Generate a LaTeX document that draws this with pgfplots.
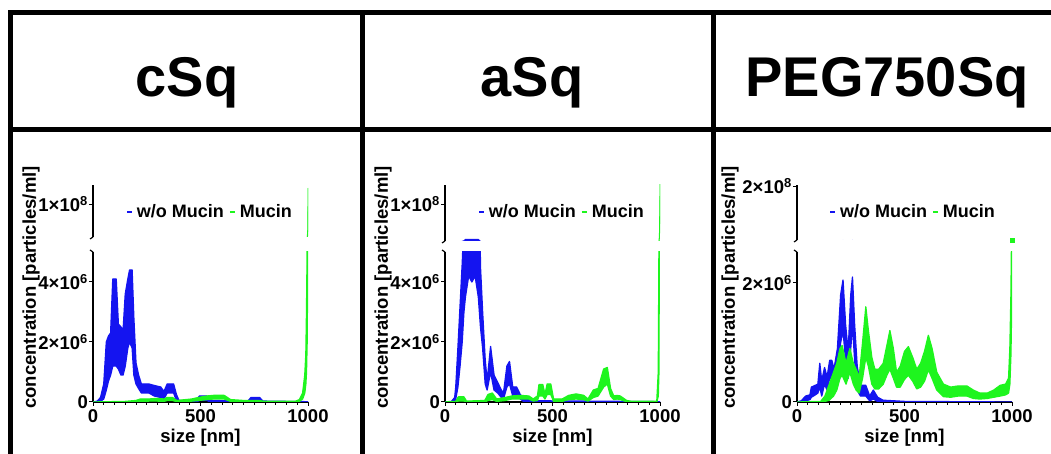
\documentclass[border=0pt]{standalone}
\usepackage{fontspec}
\setmainfont{Liberation Sans}
\usepackage{pgfplots}
\usepackage{pgfplotstable}
\pgfplotsset{compat=1.18}

\definecolor{cblue}{RGB}{20,20,240}
\definecolor{cgreen}{RGB}{30,245,30}

% outline of the mean +/- sd band
% x = size [nm], y = concentration in 10^6 particles/ml
% upper edge left to right, then lower edge right to left
\pgfplotstableread[row sep=\\]{x y\\
0 0\\ 20 0.03\\ 35 0.15\\ 50 0.6\\ 62 2.0\\ 72 2.2\\ 82 2.3\\ 92 4.1\\ 108 4.1\\ 118 2.6\\
130 2.5\\ 140 2.4\\ 150 3.6\\ 162 4.1\\ 170 4.4\\ 182 4.4\\ 190 2.8\\ 200 1.3\\ 212 0.9\\
225 0.6\\ 260 0.6\\ 285 0.55\\ 315 0.5\\ 330 0.35\\ 345 0.6\\ 375 0.6\\ 388 0.25\\ 400 0.05\\
480 0.05\\ 495 0.2\\ 530 0.2\\ 545 0.05\\ 720 0.03\\ 735 0.15\\ 775 0.15\\ 790 0.03\\ 1000 0.01\\
1000 0\\ 790 0\\ 775 0.05\\ 735 0.05\\ 720 0\\ 545 0\\ 530 0.05\\ 495 0.05\\ 480 0\\ 400 0\\
388 0.05\\ 375 0.3\\ 345 0.3\\ 330 0.1\\ 315 0.15\\ 285 0.2\\ 260 0.3\\ 225 0.3\\ 212 0.45\\
200 0.6\\ 190 0.9\\ 182 1.8\\ 170 2.0\\ 162 1.8\\ 150 1.2\\ 140 0.9\\ 130 0.9\\ 118 1.1\\
108 1.2\\ 92 1.2\\ 82 0.9\\ 72 0.7\\ 62 0.4\\ 50 0.1\\ 35 0.02\\ 20 0\\ 0 0\\
}\cSqBlue

\pgfplotstableread[row sep=\\]{x y\\
0 0\\ 150 0.02\\ 200 0.05\\ 220 0.1\\ 260 0.1\\ 300 0.12\\ 330 0.1\\ 345 0.15\\ 370 0.15\\
390 0.05\\ 460 0.1\\ 490 0.15\\ 530 0.2\\ 560 0.22\\ 610 0.22\\ 640 0.08\\ 700 0.05\\ 770 0.05\\
800 0.02\\ 940 0.02\\ 960 0.08\\ 975 0.3\\ 985 0.9\\ 990 1.6\\ 993 3.0\\ 996 5.0\\ 998 25\\
999 90\\ 1000 146\\
1000 20\\ 999 10\\ 998 4\\ 996 2\\ 993 1\\ 990 0.6\\ 985 0.3\\ 975 0.1\\ 960 0.02\\ 940 0\\
800 0\\ 770 0.01\\ 700 0.01\\ 640 0.02\\ 610 0.1\\ 560 0.1\\ 530 0.08\\ 490 0.05\\ 460 0.03\\
390 0.01\\ 370 0.05\\ 345 0.05\\ 330 0.02\\ 300 0.03\\ 260 0.03\\ 220 0.02\\ 200 0.01\\ 150 0\\ 0 0\\
}\cSqGreen

\pgfplotstableread[row sep=\\]{x y\\
0 0\\ 30 0.02\\ 45 0.15\\ 50 0.5\\ 60 1.8\\ 70 3.2\\ 80 4.6\\ 88 6\\ 95 10\\ 110 10\\ 125 10\\
140 10\\ 155 10\\ 165 4.5\\ 175 3.0\\ 187 1.4\\ 196 0.7\\ 212 1.85\\ 228 0.9\\ 245 0.65\\
262 0.4\\ 272 0.3\\ 288 1.2\\ 300 1.35\\ 315 0.5\\ 333 0.5\\ 350 0.25\\ 365 0.15\\ 400 0.12\\
430 0.04\\ 1000 0.01\\
1000 0\\ 430 0\\ 400 0.03\\ 365 0.02\\ 350 0.1\\ 333 0.25\\ 315 0.2\\ 300 0.6\\ 288 0.5\\
272 0.1\\ 262 0.15\\ 245 0.3\\ 228 0.4\\ 212 1.0\\ 196 0.4\\ 187 0.6\\ 175 1.8\\ 165 2.5\\
155 3.5\\ 140 4.2\\ 125 4.0\\ 110 4.2\\ 95 3.5\\ 88 3.0\\ 80 2.0\\ 70 1.2\\ 60 0.5\\ 50 0.1\\
45 0.02\\ 30 0\\ 0 0\\
}\aSqBlue

\pgfplotstableread[row sep=\\]{x y\\
0 0\\ 50 0.02\\ 62 0.17\\ 88 0.17\\ 100 0.03\\ 185 0.05\\ 200 0.25\\ 220 0.3\\ 240 0.1\\
280 0.15\\ 310 0.2\\ 350 0.22\\ 390 0.2\\ 410 0.1\\ 430 0.2\\ 437 0.58\\ 455 0.58\\ 465 0.25\\
475 0.6\\ 492 0.6\\ 505 0.1\\ 545 0.1\\ 575 0.22\\ 610 0.27\\ 645 0.22\\ 665 0.1\\ 690 0.4\\
712 0.45\\ 738 1.1\\ 755 1.15\\ 770 0.45\\ 785 0.2\\ 800 0.22\\ 815 0.2\\ 845 0.05\\ 870 0.02\\
985 0.02\\ 992 1\\ 995 5\\ 997 30\\ 999 120\\ 1000 160\\
1000 50\\ 999 30\\ 997 6\\ 995 1\\ 992 0.2\\ 985 0\\ 870 0\\ 845 0.01\\ 815 0.08\\ 800 0.1\\
785 0.08\\ 770 0.2\\ 755 0.6\\ 738 0.5\\ 712 0.2\\ 690 0.15\\ 665 0.03\\ 645 0.08\\ 610 0.1\\
575 0.08\\ 545 0.02\\ 505 0.02\\ 492 0.25\\ 475 0.25\\ 465 0.1\\ 455 0.2\\ 437 0.2\\ 430 0.05\\
410 0.03\\ 390 0.1\\ 350 0.1\\ 310 0.1\\ 280 0.05\\ 240 0.02\\ 220 0.08\\ 200 0.05\\ 185 0\\
100 0\\ 88 0.03\\ 62 0.03\\ 50 0\\ 0 0\\
}\aSqGreen

\pgfplotstableread[row sep=\\]{x y\\
0 0\\ 20 0.02\\ 40 0.1\\ 60 0.12\\ 67 0.25\\ 85 0.28\\ 97 0.3\\ 106 0.65\\ 115 0.35\\ 128 0.58\\
140 0.42\\ 152 0.7\\ 162 0.7\\ 172 0.55\\ 188 0.9\\ 203 1.8\\ 214 2.05\\ 226 1.3\\ 238 0.85\\
250 1.8\\ 258 2.1\\ 268 1.3\\ 280 0.6\\ 295 0.28\\ 320 0.28\\ 338 0.1\\ 355 0.2\\ 375 0.08\\
400 0.03\\ 500 0.01\\ 1000 0\\
1000 0\\ 500 0\\ 400 0\\ 375 0.01\\ 355 0.05\\ 338 0.02\\ 320 0.1\\ 295 0.1\\ 280 0.2\\ 268 0.7\\
258 1.3\\ 250 0.9\\ 238 0.4\\ 226 0.7\\ 214 1.2\\ 203 1.0\\ 188 0.4\\ 172 0.3\\ 162 0.4\\
152 0.4\\ 140 0.2\\ 128 0.3\\ 115 0.1\\ 106 0.25\\ 97 0.15\\ 85 0.12\\ 67 0.08\\ 60 0.04\\
40 0.02\\ 20 0\\ 0 0\\
}\pegBlue

\pgfplotstableread[row sep=\\]{x y\\
0 0\\ 110 0.01\\ 130 0.1\\ 150 0.3\\ 170 0.5\\ 185 0.65\\ 200 0.9\\ 210 0.95\\ 228 0.65\\
246 0.9\\ 262 0.65\\ 275 0.55\\ 289 0.42\\ 305 1.0\\ 320 1.6\\ 332 1.2\\ 348 0.75\\ 362 0.55\\
380 0.55\\ 401 0.65\\ 418 0.95\\ 432 1.2\\ 448 0.9\\ 463 0.5\\ 480 0.6\\ 500 0.85\\ 518 0.93\\
538 0.75\\ 557 0.55\\ 575 0.65\\ 593 0.85\\ 611 1.12\\ 628 0.9\\ 650 0.5\\ 681 0.3\\ 715 0.25\\
750 0.27\\ 790 0.27\\ 820 0.2\\ 850 0.15\\ 885 0.15\\ 915 0.2\\ 945 0.28\\ 970 0.3\\ 984 0.4\\
990 0.9\\ 995 1.8\\ 998 2.8\\ 1000 3.0\\
1000 2.6\\ 998 1.5\\ 995 0.8\\ 990 0.3\\ 984 0.15\\ 970 0.12\\ 945 0.1\\ 915 0.08\\ 885 0.06\\
850 0.05\\ 820 0.06\\ 790 0.1\\ 750 0.1\\ 715 0.08\\ 681 0.09\\ 650 0.2\\ 628 0.4\\ 611 0.54\\
593 0.35\\ 575 0.25\\ 557 0.22\\ 538 0.35\\ 518 0.45\\ 500 0.38\\ 480 0.25\\ 463 0.25\\ 448 0.4\\
432 0.55\\ 418 0.45\\ 401 0.3\\ 380 0.22\\ 362 0.22\\ 348 0.3\\ 332 0.6\\ 320 0.75\\ 305 0.4\\
289 0.15\\ 275 0.2\\ 262 0.3\\ 246 0.5\\ 228 0.3\\ 210 0.45\\ 200 0.4\\ 185 0.2\\ 170 0.1\\
150 0.03\\ 130 0.01\\ 110 0\\ 0 0\\
}\pegGreen

% lower segment: thick outline; upper segment: thinner outline, so that the
% values below the break do not bleed over its bottom edge
\newcommand{\band}[3][1.3pt]{%
  \addplot[draw=#3, fill=#3, line width=#1, line join=round] table[x=x,y=y]{#2};
}

\pgfplotsset{
  base/.style={scale only axis, width=215pt, xmin=0, xmax=1000,
    axis line style={line width=1.2pt, -},
    tick style={line width=1pt, black},
    tick align=outside,
    scaled y ticks=false,
    ticklabel style={font=\bfseries\fontsize{18.5}{19}\selectfont, inner sep=1pt},
    major tick length=4pt, minor tick length=3pt},
  lower/.style={base, height=150pt, axis x line*=bottom, axis y line*=left,
    xtick={0,500,1000}, xticklabels={0,500,1000}, minor x tick num=9, ymin=0,
    xticklabel style={yshift=-2pt}},
  upper/.style={base, axis y line*=left, axis x line*=bottom,
    x axis line style={draw=none}, xtick=\empty,
    legend columns=-1,
    legend style={draw=none, fill=none, anchor=center,
      font=\bfseries\fontsize{18}{19}\selectfont,
      /tikz/every odd column/.append style={column sep=2pt},
      /tikz/every even column/.append style={column sep=3pt}},
    legend image code/.code={\draw[#1, fill=none, line width=1.8pt] (0pt,0pt) -- (5pt,0pt);}},
}
\tikzset{lab/.style={font=\bfseries\fontsize{18.5}{19}\selectfont},
  ttl/.style={font=\bfseries\fontsize{56}{60}\selectfont, anchor=base}}

\begin{document}
\begin{tikzpicture}
\useasboundingbox (0pt,0pt) rectangle (1051pt,454pt);

% table frame
\draw[line width=5pt] (10.5pt,0pt) -- (10.5pt,441.5pt) -- (1051pt,441.5pt);
\draw[line width=5pt] (10.5pt,324pt) -- (1051pt,324pt);
\draw[line width=5pt] (362pt,0pt) -- (362pt,441.5pt);
\draw[line width=5pt] (713pt,0pt) -- (713pt,441.5pt);

\node[ttl] at (187pt,357pt) {cSq};
\node[ttl] at (532pt,357pt) {aSq};
\node[ttl] at (887pt,357pt) {PEG750Sq};

% ---- cSq ----
\begin{axis}[lower, at={(93pt,52pt)}, anchor=south west, ymax=5,
  ytick={0,2,4}, yticklabels={{0},{2×10\textsuperscript{6}},{4×10\textsuperscript{6}}}]
\band{\cSqBlue}{cblue}
\band{\cSqGreen}{cgreen}
\end{axis}
\begin{axis}[upper, at={(93pt,217pt)}, anchor=south west, height=52pt,
  ymin=5, ymax=155, ytick={100}, yticklabels={{1×10\textsuperscript{8}}},
  legend style={at={(0.544,0.48)}}]
\band[0.3pt]{\cSqBlue}{cblue}
\band[0.6pt]{\cSqGreen}{cgreen}
\legend{w/o Mucin,Mucin}
\end{axis}
\draw[line width=1.2pt] (93pt,217pt) -- ++(-3pt,-2pt);
\draw[line width=1.2pt] (93pt,202pt) -- ++(-3pt,2pt);
\node[lab, rotate=90] at (31pt,166.5pt) {concentration [particles/ml]};
\node[lab, anchor=base] at (200.5pt,11pt) {size [nm]};

% ---- aSq ----
\begin{axis}[lower, at={(445pt,52pt)}, anchor=south west, ymax=5,
  ytick={0,2,4}, yticklabels={{0},{2×10\textsuperscript{6}},{4×10\textsuperscript{6}}}]
\band{\aSqBlue}{cblue}
\band{\aSqGreen}{cgreen}
\end{axis}
\begin{axis}[upper, at={(445pt,213pt)}, anchor=south west, height=56pt,
  ymin=5, ymax=150, ytick={100}, yticklabels={{1×10\textsuperscript{8}}},
  legend style={at={(0.544,0.52)}}]
\band[0.6pt]{\aSqBlue}{cblue}
\band[0.6pt]{\aSqGreen}{cgreen}
\legend{w/o Mucin,Mucin}
\end{axis}
\draw[line width=1.2pt] (445pt,213pt) -- ++(-3pt,-2pt);
\draw[line width=1.2pt] (445pt,202pt) -- ++(-3pt,2pt);
\node[lab, rotate=90] at (383pt,166.5pt) {concentration [particles/ml]};
\node[lab, anchor=base] at (552.5pt,11pt) {size [nm]};

% ---- PEG750Sq ----
\begin{axis}[lower, at={(797pt,52pt)}, anchor=south west, ymax=2.52,
  ytick={0,2}, yticklabels={{0},{2×10\textsuperscript{6}}}]
\band{\pegBlue}{cblue}
\band{\pegGreen}{cgreen}
\end{axis}
\begin{axis}[upper, at={(797pt,214pt)}, anchor=south west, height=55pt,
  ymin=2.6, ymax=205, ytick={200}, yticklabels={{2×10\textsuperscript{8}}},
  legend style={at={(0.54,0.51)}}]
\band[0.3pt]{\pegBlue}{cblue}
\band[0.3pt]{\pegGreen}{cgreen}
\addplot[cgreen, only marks, mark=square*, mark size=2pt, forget plot] coordinates {(1000,3.0)};
\legend{w/o Mucin,Mucin}
\end{axis}
\draw[line width=1.2pt] (797pt,214pt) -- ++(-3pt,-2pt);
\draw[line width=1.2pt] (797pt,202pt) -- ++(-3pt,2pt);
\node[lab, rotate=90] at (730pt,166.5pt) {concentration [particles/ml]};
\node[lab, anchor=base] at (904.5pt,11pt) {size [nm]};
\end{tikzpicture}
\end{document}
